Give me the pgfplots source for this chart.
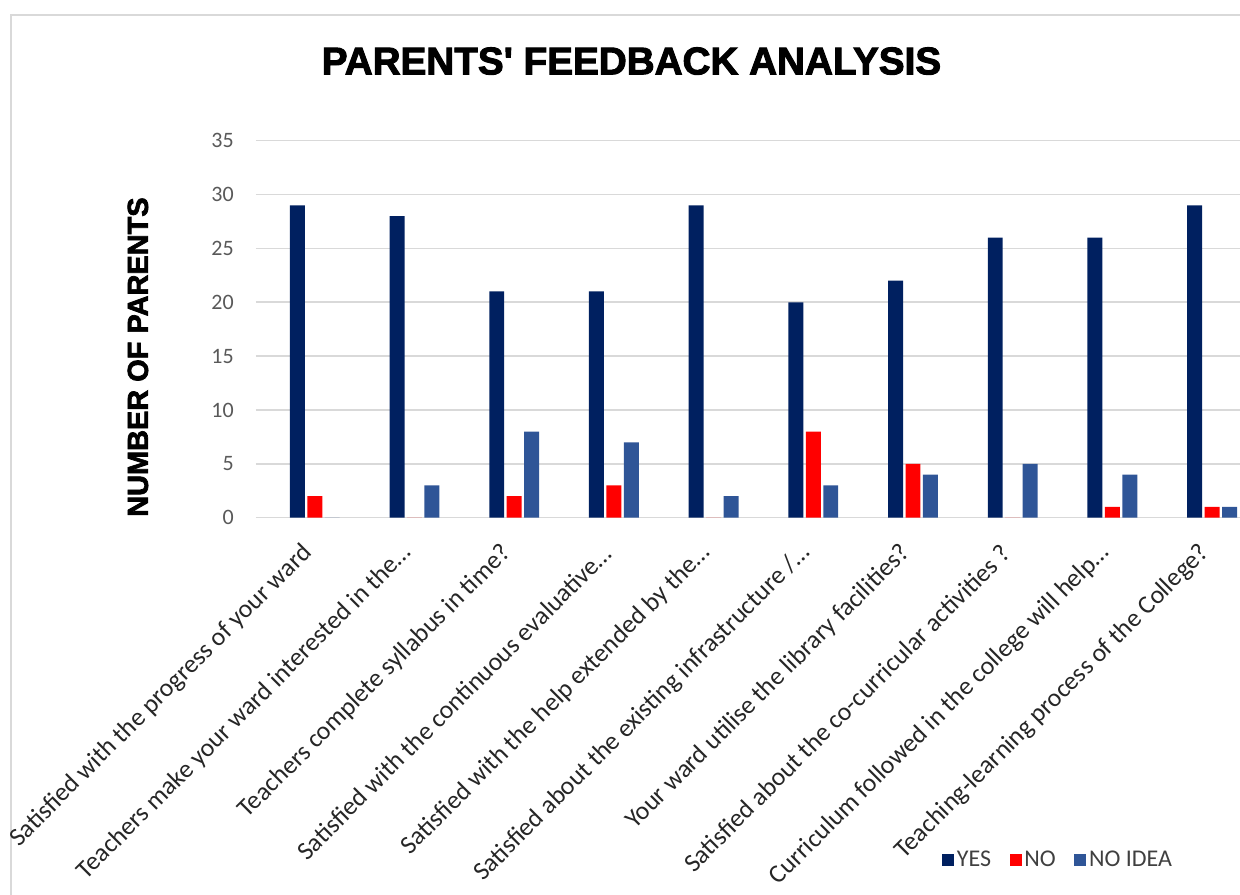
\documentclass[border=0pt]{standalone}
\usepackage{fontspec}
\setmainfont{Carlito}
\newfontfamily\heavyfont{Liberation Sans}[BoldFeatures={FakeBold=2.5}]
\usepackage{pgfplots}
\pgfplotsset{compat=1.18}
\definecolor{cyes}{HTML}{002060}
\definecolor{cno}{HTML}{FF0000}
\definecolor{cidea}{HTML}{2F5597}
\definecolor{gridc}{HTML}{D9D9D9}
\definecolor{txt}{HTML}{595959}
\pgfplotstableread{
x yes no idea
0 29 2 0
1 28 0 3
2 21 2 8
3 21 3 7
4 29 0 2
5 20 8 3
6 22 5 4
7 26 0 5
8 26 1 4
9 29 1 1
}\datatab
\begin{document}
\begin{tikzpicture}[x=0.75pt,y=0.75pt]
\path[use as bounding box] (0,0) rectangle (1240,895);
\draw[gridc, line width=2pt] (11,0) -- (11,880) -- (1240,880);
\begin{axis}[
  at={(192pt,282.975pt)}, anchor=south west,
  scale only axis, width=738pt, height=282.75pt,
  xmin=-0.59, xmax=9.28, ymin=0, ymax=35,
  ytick={0,5,...,35},
  xtick={0,...,9},
  xticklabels={Satisfied with the progress of your ward,
    Teachers make your ward interested in the…,
    Teachers complete syllabus in time?,
    Satisfied with the continuous evaluative…,
    Satisfied with the help extended by the…,
    Satisfied about the existing infrastructure /…,
    Your ward utilise the library facilities?,
    Satisfied about the co-curricular activities ?,
    Curriculum followed in the college will help…,
    Teaching-learning process of the College?},
  ymajorgrids, grid style={draw=gridc, line width=1.2pt},
  axis line style={draw=none},
  major tick length=0pt,
  /pgf/number format/assume math mode=true,
  yticklabel style={font=\fontsize{16.5}{19}\selectfont, text=txt, anchor=east, inner sep=0pt, xshift=-16.5pt},
  xticklabel style={font=\fontsize{19.3}{22}\selectfont, text=black!85, xshift=-5pt, yshift=-23.5pt, rotate=45, anchor=east, inner sep=0pt},
  ylabel={NUMBER OF PARENTS},
  ylabel style={font=\heavyfont\bfseries\fontsize{21.7}{25}\selectfont, at={(axis description cs:-0.12,0.426)}, anchor=center},
  title={PARENTS' FEEDBACK ANALYSIS},
  title style={font=\heavyfont\bfseries\fontsize{29}{34}\selectfont, at={(axis description cs:0.3816,1.19)}, anchor=center},
  legend columns=3,
  legend style={at={(axis description cs:0.693,-0.908)}, anchor=west, draw=none, fill=none,
    font=\fontsize{18}{21}\selectfont, text=black!75,
    /tikz/every even column/.append style={column sep=12pt}},
  legend image code/.code={\fill[#1] (0pt,-4.5pt) rectangle (9pt,4.5pt);},
]
\addplot[ybar, bar width=0.15, bar shift=-0.175, fill=cyes, draw=none] table[x=x,y=yes]{\datatab};
\addlegendentry{YES}
\addplot[ybar, bar width=0.15, bar shift=0, fill=cno, draw=none] table[x=x,y=no]{\datatab};
\addlegendentry{NO}
\addplot[ybar, bar width=0.15, bar shift=0.175, fill=cidea, draw=none] table[x=x,y=idea]{\datatab};
\addlegendentry{NO IDEA}
\end{axis}
\end{tikzpicture}
\end{document}
